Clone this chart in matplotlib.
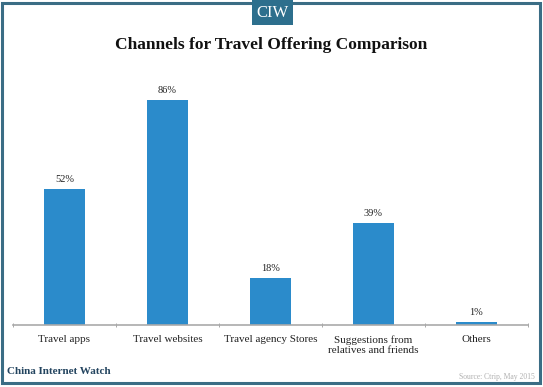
import matplotlib.pyplot as plt
import matplotlib.patches as patches

plt.rcParams['font.family'] = ['Liberation Serif', 'DejaVu Serif']

# data
categories = ["Travel apps", "Travel websites", "Travel agency Stores",
              "Suggestions from\nrelatives and friends", "Others"]
values = [52, 86, 18, 39, 1]

bar_color = '#2b8bcb'
frame_color = '#3b6d85'

fig = plt.figure(figsize=(5.43, 3.87), dpi=100)
ax = fig.add_axes([13 / 543, 62 / 387, 515 / 543, 261.6 / 387])

x = list(range(len(categories)))
ax.bar(x, values, width=0.4, color=bar_color, zorder=2)
for xi, v in zip(x, values):
    ax.text(xi, v + 2.0, f"{v}%", ha='center', va='bottom', fontsize=7.5, color='#222222')

ax.set_xlim(-0.5, len(categories) - 0.5)
ax.set_ylim(0, 100)
ax.set_yticks([])
ax.set_xticks(x)
ax.set_xticklabels(categories, fontsize=8, color='#222222', linespacing=1.15)
ax.set_xticks([i - 0.5 for i in range(len(categories) + 1)], minor=True)
ax.tick_params(axis='x', which='major', length=0, pad=7.5)
ax.tick_params(axis='x', which='minor', length=3, direction='inout', color='#999999')
for s in ['top', 'right', 'left']:
    ax.spines[s].set_visible(False)
ax.spines['bottom'].set_color('#aaaaaa')
ax.spines['bottom'].set_linewidth(1.2)
ax.patch.set_alpha(0)

# frame around the picture
fig.patches.append(patches.Rectangle((2 / 543, 4 / 387), 538 / 543, 380 / 387,
                                     transform=fig.transFigure, fill=False,
                                     edgecolor=frame_color, linewidth=2.2))
# CIW badge
fig.patches.append(patches.Rectangle((252 / 543, 362 / 387), 41 / 543, 25 / 387,
                                     transform=fig.transFigure, facecolor='#2d6f8d',
                                     edgecolor='none', zorder=5))
fig.text(272.5 / 543, 374 / 387, "CIW", ha='center', va='center', color='white',
         fontsize=12, zorder=6)

fig.text(0.5, 342 / 387, "Channels for Travel Offering Comparison", ha='center',
         va='center', fontsize=12.5, fontweight='bold', color='#111111')

fig.text(7 / 543, 15 / 387, "China Internet Watch", ha='left', va='center',
         fontsize=8, fontweight='bold', color='#23445f')
fig.text(535 / 543, 10 / 387, "Source: Ctrip, May 2015", ha='right', va='center',
         fontsize=5.5, color='#b0b0b0')

fig.savefig('out.png', dpi=100)
